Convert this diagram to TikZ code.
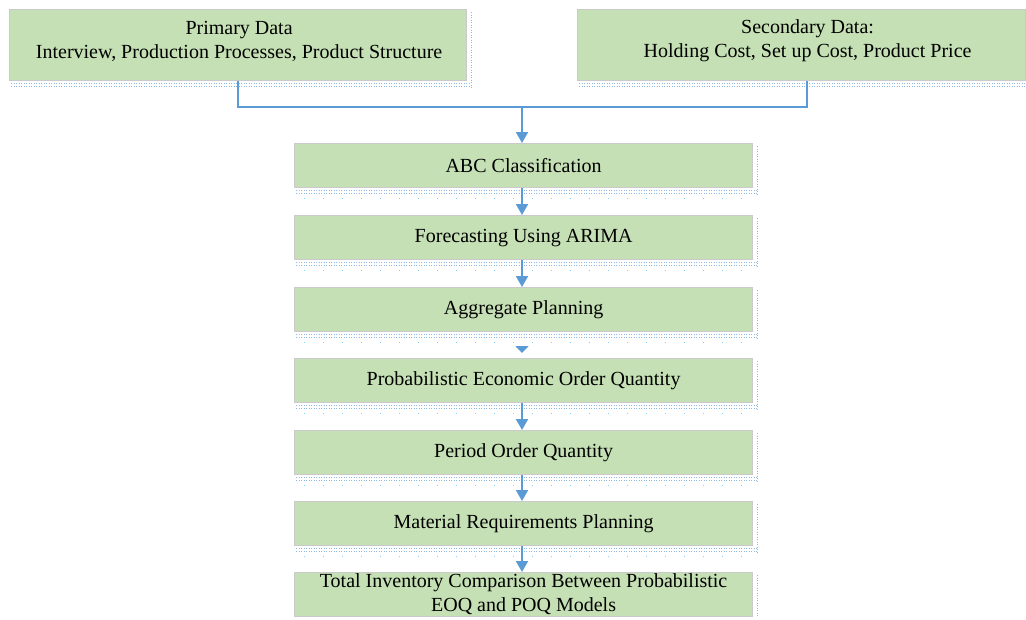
\documentclass[tikz,border=0pt]{standalone}
\usepackage{fontspec}
\setmainfont{Liberation Serif}
\usetikzlibrary{arrows.meta}
\definecolor{boxgreen}{HTML}{C5E0B4}
\definecolor{boxedge}{HTML}{CACACA}
\definecolor{arrowblue}{HTML}{5B9BD5}
\definecolor{dotblue}{HTML}{8DB8E2}
\definecolor{dotcyan}{HTML}{7FD3EE}
\begin{document}
\begin{tikzpicture}[x=1pt,y=-1pt,
  txt/.style={align=center, font=\fontsize{20}{24}\selectfont},
  box/.style={draw=boxedge, line width=1.2pt, fill=boxgreen, inner sep=0pt, txt, anchor=north west},
  topbox/.style={box, minimum height=71pt},
  midbox/.style={box, minimum width=458pt, minimum height=44pt},
  dotrow/.style={dotblue, line width=1pt, dash pattern=on 1pt off 1.5pt},
  conn/.style={draw=arrowblue, line width=1.9pt},
  arr/.style={conn, -{Triangle[length=11pt,width=12pt]}}]
\useasboundingbox (0,0) rectangle (1026,619);
% top boxes
\node[topbox, minimum width=457pt,
  label={[txt, yshift=4pt, xshift=1pt]center:Primary Data\\Interview, Production Processes, Product Structure}] (pri) at (9,9) {};
\node[topbox, minimum width=448pt,
  label={[txt, yshift=4pt, xshift=6pt]center:Secondary Data:\\Holding Cost, Set up Cost, Product Price}] (sec) at (577,9) {};
% central boxes
\node[midbox] (abc) at (294,143) {ABC Classification};
\node[midbox] (fc)  at (294,215) {Forecasting Using ARIMA};
\node[midbox] (agg) at (294,287) {Aggregate Planning};
\node[midbox] (peoq) at (294,358) {Probabilistic Economic Order Quantity};
\node[midbox] (poq) at (294,430) {Period Order Quantity};
\node[midbox] (mrp) at (294,501) {Material Requirements Planning};
\node[midbox] (tot) at (294,572) {Total Inventory Comparison Between Probabilistic\\EOQ and POQ Models};
% dotted frame remnants
\foreach \n in {pri,sec,abc,fc,agg,peoq,poq,mrp}{
  \draw[dotrow] ([xshift=2pt,yshift=-2.5pt]\n.south west) -- ([xshift=3pt,yshift=-2.5pt]\n.south east);
  \draw[dotrow] ([xshift=2pt,yshift=-5.5pt]\n.south west) -- ([xshift=3pt,yshift=-5.5pt]\n.south east);
  \draw[dotrow] ([xshift=4pt,yshift=-3pt]\n.north east) -- ([xshift=4pt,yshift=-6pt]\n.south east);
}
\foreach \n in {abc,fc,agg,peoq,poq,mrp}{
  \draw[dotcyan, line width=1pt, dash pattern=on 1pt off 18pt] ([xshift=10pt,yshift=-10pt]\n.south west) -- ([yshift=-10pt]\n.south east);
}
\draw[dotrow] ([xshift=4pt,yshift=-3pt]tot.north east) -- ([xshift=4pt]tot.south east);
% connectors
\coordinate (j) at (522,107);
\draw[conn] (pri.south) |- (j);
\draw[conn] ([xshift=5pt]sec.south) |- (j);
\draw[arr] (j) -- (abc.north -| j);
\draw[arr] (abc.south -| j) -- (fc.north -| j);
\draw[arr] (fc.south -| j) -- (agg.north -| j);
\coordinate (g1) at (522,346);
\coordinate (g2) at (522,353);
\draw[conn, -{Triangle[length=7pt,width=13pt]}] (g1) -- (g2);
\draw[arr] (peoq.south -| j) -- (poq.north -| j);
\draw[arr] (poq.south -| j) -- (mrp.north -| j);
\draw[arr] (mrp.south -| j) -- (tot.north -| j);
\end{tikzpicture}
\end{document}
